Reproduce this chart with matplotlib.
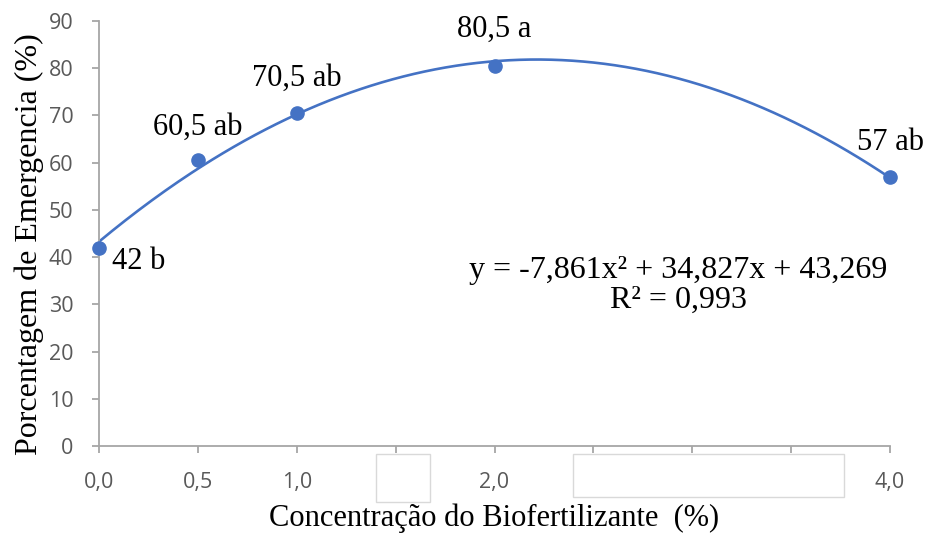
import numpy as np
import matplotlib
matplotlib.use("Agg")
import matplotlib.pyplot as plt
from matplotlib.patches import Rectangle
import matplotlib.transforms as mtransforms

x_vals = [0.0, 0.5, 1.0, 2.0, 4.0]
y_vals = [42.0, 60.5, 70.5, 80.5, 57.0]
point_labels = ["42 b", "60,5 ab", "70,5 ab", "80,5 a", "57 ab"]
x_ticks = [0.0, 0.5, 1.0, 1.5, 2.0, 2.5, 3.0, 3.5, 4.0]
x_tick_labels = ["0,0", "0,5", "1,0", "1,5", "2,0", "2,5", "3,0", "3,5", "4,0"]
y_ticks = [0, 10, 20, 30, 40, 50, 60, 70, 80, 90]
equation = "y = -7,861x² + 34,827x + 43,269"
r2_text = "R² = 0,993"

blue = "#4472C4"
gray = "#A6A6A6"
tick_gray = "#595959"
serif = ["Liberation Serif", "DejaVu Serif"]
sans = ["Open Sans", "DejaVu Sans"]

fig = plt.figure(figsize=(9.3, 5.33), dpi=100)
ax = fig.add_axes([99/930, 1-446/533, (890-99)/930, (446-21)/533])

coef = np.polyfit(x_vals, y_vals, 2)
xs = np.linspace(0, 4, 300)
ax.plot(xs, np.polyval(coef, xs), color=blue, lw=1.9, zorder=2)
ax.plot(x_vals, y_vals, "o", color=blue, ms=9.5, zorder=3, clip_on=False)

ax.set_xlim(0, 4)
ax.set_ylim(0, 90)
ax.set_xticks(x_ticks)
ax.set_xticklabels(x_tick_labels)
ax.set_yticks(y_ticks)
for s in ["top", "right"]:
    ax.spines[s].set_visible(False)
for s in ["left", "bottom"]:
    ax.spines[s].set_color(gray)
    ax.spines[s].set_linewidth(1.3)
ax.tick_params(axis="both", colors=gray, length=5, width=1.3, direction="out",
               labelcolor=tick_gray, labelsize=15.5)
ax.tick_params(axis="x", pad=13.5)
ax.tick_params(axis="y", pad=13.5)
for lab in ax.get_xticklabels() + ax.get_yticklabels():
    lab.set_fontfamily(sans)

ax.set_ylabel("Porcentagem de Emergencia (%)", fontsize=23, family=serif, labelpad=5)
ax.yaxis.set_label_coords(-0.088, 0.476)
ax.yaxis.label.set_verticalalignment("center")
ax.set_xlabel("Concentração do Biofertilizante  (%)", fontsize=22, family=serif, labelpad=8)

# point labels
offsets = [(9, -10, "left"), (0, 24, "center"), (0, 25, "center"), (0, 26, "center"), (0, 25, "center")]
for xv, yv, lab, (dx, dy, ha) in zip(x_vals, y_vals, point_labels, offsets):
    ax.annotate(lab, (xv, yv), xytext=(dx, dy), textcoords="offset points",
                ha=ha, va="center", fontsize=22, family=serif, color="black",
                annotation_clip=False)

ax.text(0.732, 0.395, equation, transform=ax.transAxes, ha="center", va="baseline",
        fontsize=23, family=serif)
ax.text(0.732, 0.325, r2_text, transform=ax.transAxes, ha="center", va="baseline",
        fontsize=23, family=serif)

# white boxes covering some tick labels
trans = mtransforms.blended_transform_factory(ax.transData, ax.transAxes)
for x0, x1, y0, y1 in [(1.40, 1.674, -0.132, -0.019), (2.397, 3.767, -0.12, -0.019)]:
    ax.add_patch(Rectangle((x0, y1), x1 - x0, y0 - y1, transform=trans, facecolor="white",
                           edgecolor="#D9D9D9", lw=1.0, clip_on=False, zorder=10))

fig.savefig("out.png", dpi=100)
